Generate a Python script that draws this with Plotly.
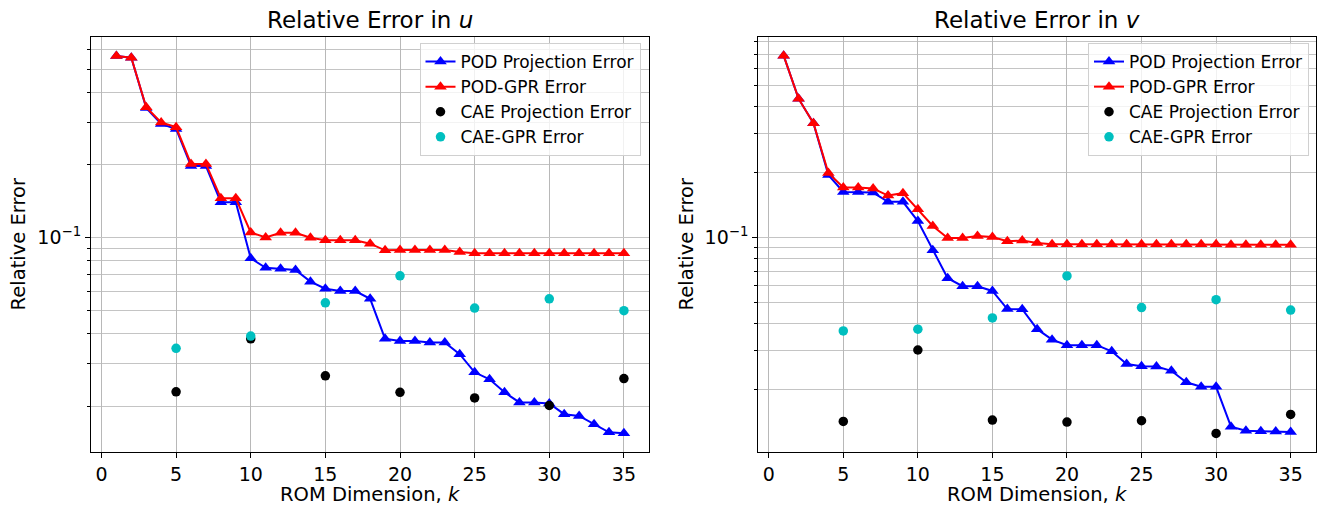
import plotly.graph_objects as go

# ROM dimensions
k = list(range(1, 36))
k_cae = [5, 10, 15, 20, 25, 30, 35]

# Relative error in u
u_pod_proj = [0.566, 0.557, 0.345, 0.296, 0.282, 0.198, 0.198, 0.140, 0.140, 0.0820,
              0.0749, 0.0742, 0.0733, 0.0656, 0.0613, 0.0600, 0.0600, 0.0557, 0.0380, 0.0372,
              0.0372, 0.0367, 0.0367, 0.0328, 0.0276, 0.0258, 0.0228, 0.0207, 0.0207, 0.0205,
              0.0185, 0.0182, 0.0168, 0.01555, 0.0154]
u_pod_gpr = [0.566, 0.557, 0.347, 0.300, 0.287, 0.202, 0.202, 0.1455, 0.1455, 0.105,
             0.100, 0.1047, 0.1047, 0.0998, 0.0974, 0.0974, 0.0974, 0.0943, 0.0885, 0.0887,
             0.0887, 0.0887, 0.0887, 0.0871, 0.0860, 0.0860, 0.0860, 0.0860, 0.0860, 0.0860,
             0.0860, 0.0860, 0.0860, 0.0860, 0.0860]
u_cae_proj = [0.0229, 0.0380, 0.0267, 0.0228, 0.0216, 0.0201, 0.0260]
u_cae_gpr = [0.0347, 0.0390, 0.0536, 0.0694, 0.0510, 0.0557, 0.0497]

# Relative error in v
v_pod_proj = [0.688, 0.436, 0.336, 0.194, 0.162, 0.162, 0.161, 0.146, 0.146, 0.119,
              0.0873, 0.0649, 0.0596, 0.0596, 0.0567, 0.0468, 0.0467, 0.0378, 0.0338, 0.0319,
              0.0319, 0.0319, 0.0299, 0.0261, 0.0255, 0.0254, 0.0243, 0.0215, 0.0205, 0.0205,
              0.01343, 0.01287, 0.0128, 0.01276, 0.01269]
v_pod_gpr = [0.688, 0.436, 0.336, 0.198, 0.170, 0.170, 0.168, 0.156, 0.160, 0.135,
             0.113, 0.0995, 0.0995, 0.1016, 0.1005, 0.0960, 0.0967, 0.0943, 0.0930, 0.0930,
             0.0930, 0.0930, 0.0930, 0.0930, 0.0930, 0.0930, 0.0930, 0.0930, 0.0930, 0.0930,
             0.0925, 0.0925, 0.0925, 0.0925, 0.0925]
v_cae_proj = [0.0142, 0.0303, 0.0144, 0.0141, 0.0143, 0.0125, 0.0153]
v_cae_gpr = [0.0371, 0.0378, 0.0426, 0.0665, 0.0475, 0.0517, 0.0463]

x_ticks = [0, 5, 10, 15, 20, 25, 30, 35]
y_major = [0.1]
y_major_text = ["10<sup>\u22121</sup>"]
y_minor = [0.01 * i for i in range(2, 10)] + [0.1 * i for i in range(2, 10)]

FONT = "DejaVu Sans"
BLUE, RED, BLACK, CYAN = "#0000ff", "#ff0000", "#000000", "#00bfbf"

fig = go.Figure()


def add_panel(xa, ya, legend, pod_proj, pod_gpr, cae_proj, cae_gpr):
    fig.add_trace(go.Scatter(x=k, y=pod_proj, mode="lines+markers", name="POD Projection Error",
                             line=dict(color=BLUE, width=2),
                             marker=dict(symbol="triangle-up", size=11, color=BLUE),
                             xaxis=xa, yaxis=ya, legend=legend))
    fig.add_trace(go.Scatter(x=k, y=pod_gpr, mode="lines+markers", name="POD-GPR Error",
                             line=dict(color=RED, width=2),
                             marker=dict(symbol="triangle-up", size=11, color=RED),
                             xaxis=xa, yaxis=ya, legend=legend))
    fig.add_trace(go.Scatter(x=k_cae, y=cae_proj, mode="markers", name="CAE Projection Error",
                             marker=dict(symbol="circle", size=9.5, color=BLACK),
                             xaxis=xa, yaxis=ya, legend=legend))
    fig.add_trace(go.Scatter(x=k_cae, y=cae_gpr, mode="markers", name="CAE-GPR Error",
                             marker=dict(symbol="circle", size=9.5, color=CYAN),
                             xaxis=xa, yaxis=ya, legend=legend))


add_panel("x", "y", "legend", u_pod_proj, u_pod_gpr, u_cae_proj, u_cae_gpr)
add_panel("x2", "y2", "legend2", v_pod_proj, v_pod_gpr, v_cae_proj, v_cae_gpr)

W, H = 1320, 509
y_dom = [1 - 452.3 / H, 1 - 36.5 / H]
x_dom1 = [91 / W, 649.3 / W]
x_dom2 = [758.3 / W, 1316 / W]

xaxis_style = dict(
    type="linear", range=[-0.7, 36.7], tickvals=x_ticks,
    ticks="outside", ticklen=5, tickwidth=1, tickcolor="black",
    showgrid=True, gridcolor="#b8b8b8", gridwidth=1,
    showline=True, linecolor="black", linewidth=1.2, mirror=True,
    zeroline=False, tickfont=dict(family=FONT, size=19, color="black"),
)
yaxis_style = dict(
    type="log", tickvals=y_major, ticktext=y_major_text,
    ticks="outside", ticklen=5, tickwidth=1, tickcolor="black",
    showgrid=True, gridcolor="#c4c4c4", gridwidth=1.3,
    minor=dict(tickvals=y_minor, ticks="outside", ticklen=3, tickcolor="black",
               showgrid=True, gridcolor="#c4c4c4", gridwidth=1.3),
    showline=True, linecolor="black", linewidth=1.2, mirror=True,
    zeroline=False, tickfont=dict(family=FONT, size=19, color="black"),
)

legend_style = dict(
    bgcolor="rgba(255,255,255,0.8)", bordercolor="#d0d0d0", borderwidth=1,
    font=dict(family=FONT, size=17, color="black"),
    xanchor="right", yanchor="top", tracegroupgap=0,
)

fig.update_layout(
    width=W, height=H,
    margin=dict(l=0, r=0, t=0, b=0),
    paper_bgcolor="white", plot_bgcolor="white",
    font=dict(family=FONT, color="black"),
    xaxis=dict(domain=x_dom1, anchor="y", **xaxis_style),
    yaxis=dict(domain=y_dom, anchor="x", range=[-1.891, -0.166], **yaxis_style),
    xaxis2=dict(domain=x_dom2, anchor="y2", **xaxis_style),
    yaxis2=dict(domain=y_dom, anchor="x2", range=[-1.990, -0.074], **yaxis_style),
    legend=dict(x=640.5 / W, y=1 - 43 / H, **legend_style),
    legend2=dict(x=1309 / W, y=1 - 43 / H, **legend_style),
    showlegend=True,
)

# Panel titles and axis labels
titles = [("Relative Error in <i>u</i>", x_dom1), ("Relative Error in <i>v</i>", x_dom2)]
for text, dom in titles:
    cx = (dom[0] + dom[1]) / 2
    fig.add_annotation(text=text, x=cx, y=1 - 20 / H, xref="paper", yref="paper",
                       showarrow=False, xanchor="center", yanchor="middle",
                       font=dict(family=FONT, size=23, color="black"))
    fig.add_annotation(text="ROM Dimension, <i>k</i>", x=cx, y=1 - 494 / H,
                       xref="paper", yref="paper", showarrow=False,
                       xanchor="center", yanchor="middle",
                       font=dict(family=FONT, size=19.5, color="black"))

for xpix in (18, 686):
    fig.add_annotation(text="Relative Error", x=xpix / W, y=(y_dom[0] + y_dom[1]) / 2,
                       xref="paper", yref="paper", showarrow=False, textangle=-90,
                       xanchor="center", yanchor="middle",
                       font=dict(family=FONT, size=19.5, color="black"))

fig.write_html("out.html")
